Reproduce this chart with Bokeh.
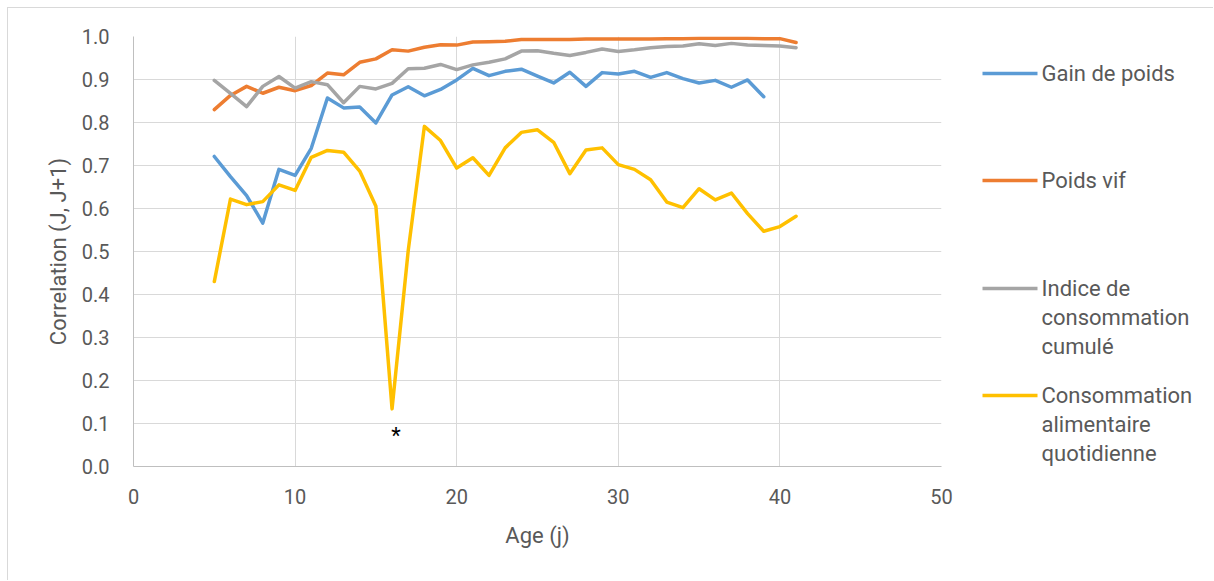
from bokeh.plotting import figure
from bokeh.models import Range1d, FixedTicker, NumeralTickFormatter, Label
from bokeh.layouts import row
from bokeh.core.properties import value
from bokeh.embed import file_html
from bokeh.resources import INLINE

# ---- data ----
days = list(range(5, 42))
days_gain = list(range(5, 40))
gain_de_poids = [0.721, 0.674, 0.630, 0.566, 0.691, 0.677, 0.740, 0.857, 0.834, 0.836,
                 0.799, 0.864, 0.883, 0.862, 0.877, 0.899, 0.926, 0.909, 0.919, 0.924,
                 0.908, 0.892, 0.917, 0.884, 0.916, 0.913, 0.919, 0.905, 0.916, 0.902,
                 0.892, 0.898, 0.882, 0.899, 0.860]
poids_vif = [0.830, 0.863, 0.884, 0.868, 0.882, 0.874, 0.886, 0.915, 0.911, 0.940,
             0.948, 0.969, 0.966, 0.975, 0.981, 0.980, 0.987, 0.988, 0.989, 0.993,
             0.993, 0.993, 0.993, 0.994, 0.994, 0.994, 0.994, 0.994, 0.995, 0.995,
             0.996, 0.996, 0.996, 0.996, 0.995, 0.995, 0.986]
indice_conso = [0.898, 0.868, 0.837, 0.884, 0.907, 0.880, 0.895, 0.888, 0.846, 0.884,
                0.878, 0.891, 0.925, 0.926, 0.935, 0.923, 0.934, 0.940, 0.948, 0.966,
                0.967, 0.961, 0.956, 0.963, 0.971, 0.965, 0.969, 0.974, 0.977, 0.978,
                0.983, 0.979, 0.984, 0.980, 0.979, 0.978, 0.974]
conso_quot = [0.430, 0.622, 0.609, 0.616, 0.655, 0.642, 0.719, 0.735, 0.731, 0.687,
              0.605, 0.134, 0.502, 0.791, 0.758, 0.694, 0.718, 0.677, 0.741, 0.777,
              0.783, 0.754, 0.681, 0.736, 0.741, 0.702, 0.691, 0.667, 0.615, 0.602,
              0.646, 0.620, 0.636, 0.588, 0.547, 0.558, 0.582]

series_names = ["Gain de poids", "Poids vif", "Indice de\nconsommation\ncumulé",
                "Consommation\nalimentaire\nquotidienne"]
colors = ["#5B9BD5", "#ED7D31", "#A5A5A5", "#FFC000"]
x_ticks = [0, 10, 20, 30, 40, 50]
y_ticks = [round(i * 0.1, 1) for i in range(11)]

FONT = "Roboto"
TXT = "#595959"
H = 572

p = figure(width=953, height=H, output_backend="svg", toolbar_location=None,
           x_range=Range1d(0, 50), y_range=Range1d(0, 1),
           min_border_left=125, min_border_right=20, min_border_top=28, min_border_bottom=114,
           background_fill_color="white", border_fill_color="white")
p.outline_line_color = None

p.xaxis.ticker = FixedTicker(ticks=x_ticks)
p.yaxis.ticker = FixedTicker(ticks=y_ticks)
p.yaxis.formatter = NumeralTickFormatter(format="0.0")
for ax in (p.xaxis[0], p.yaxis[0]):
    ax.major_tick_line_color = None
    ax.minor_tick_line_color = None
    ax.axis_line_color = "#bfbfbf"
    ax.axis_line_width = 1
    ax.major_label_text_font = FONT
    ax.major_label_text_font_size = "20px"
    ax.major_label_text_color = TXT
    ax.axis_label_text_font = FONT
    ax.axis_label_text_font_size = "22px"
    ax.axis_label_text_font_style = "normal"
    ax.axis_label_text_color = TXT
p.xaxis.axis_label = "Age (j)"
p.yaxis.axis_label = "Correlation (J, J+1)"
p.xaxis.major_label_standoff = 16
p.yaxis.major_label_standoff = 18
p.xaxis.axis_label_standoff = 16
p.yaxis.axis_label_standoff = 8
p.grid.grid_line_color = "#d9d9d9"
p.grid.grid_line_width = 1

xs = [days_gain, days, days, days]
ys = [gain_de_poids, poids_vif, indice_conso, conso_quot]
for x, y, c in zip(xs, ys, colors):
    p.line(x, y, line_color=c, line_width=3.5, line_join="round", line_cap="round")

# asterisk under the minimum of daily feed intake
imin = conso_quot.index(min(conso_quot))
p.add_layout(Label(x=days[imin], y=conso_quot[imin], x_offset=4, y_offset=-27,
                   text="*", text_font=FONT, text_font_size="22px", text_color="black",
                   text_align="center", text_baseline="alphabetic"))

# ---- legend panel (page-pixel coordinates; its frame is aligned with the main frame) ----
LX0 = 8 + 953
LW = 1213 - LX0
leg = figure(width=LW, height=H, output_backend="svg", toolbar_location=None,
             x_range=Range1d(LX0, LX0 + LW), y_range=Range1d(466, 36),
             min_border=0, background_fill_color="white", border_fill_color="white")
leg.outline_line_color = None
leg.axis.visible = False
leg.grid.visible = False

leg_y = [73, 180, 288, 395]
line_gap = 29
for name, c, ly in zip(series_names, colors, leg_y):
    leg.line([982, 1037], [ly, ly], line_color=c, line_width=3.5)
    parts = name.split("\n")
    leg.text(x=[1041] * len(parts), y=[ly + k * line_gap for k in range(len(parts))],
             text=parts, text_font=value(FONT), text_font_size="22px", text_color=TXT,
             text_align="left", text_baseline="middle")

layout = row(p, leg, spacing=0)
layout.styles = {"margin": "7px 0 0 7px", "border-left": "1px solid #d9d9d9",
                 "border-top": "1px solid #d9d9d9"}

open("out.html", "w").write(file_html(layout, INLINE))
